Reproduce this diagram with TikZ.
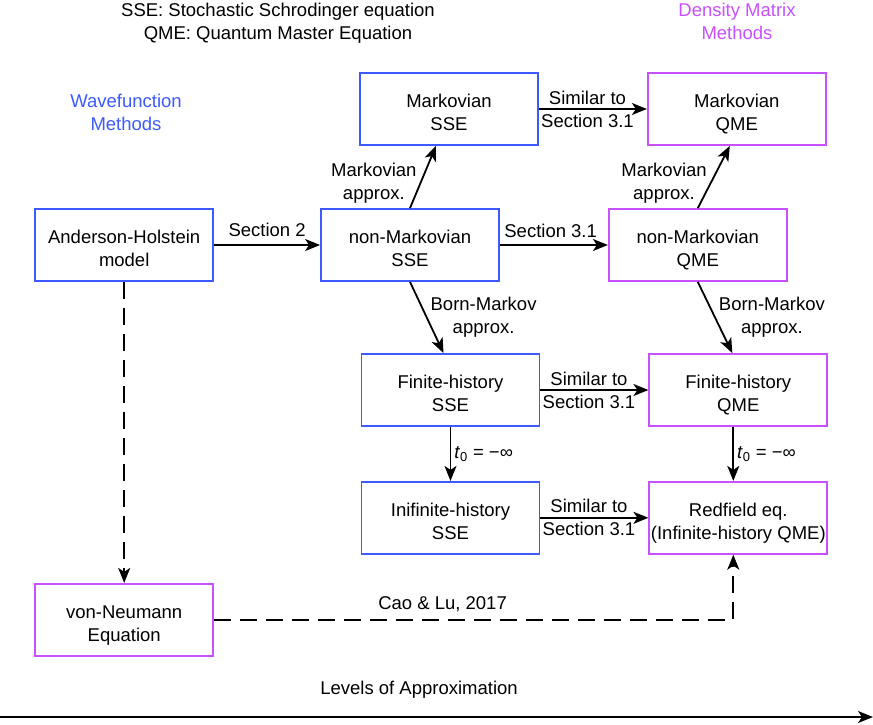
\documentclass[tikz,border=0pt]{standalone}
\usepackage{fontspec}
\setmainfont{Liberation Sans}
\usetikzlibrary{arrows.meta, positioning}
\definecolor{wfblue}{RGB}{60,90,255}
\definecolor{dmpurple}{RGB}{200,80,255}

\begin{document}
\begin{tikzpicture}[x=1pt, y=-1pt,
    font=\fontsize{18.5}{23}\selectfont,
    wf/.style={rectangle, draw=wfblue, line width=1.8pt, minimum width=178pt, minimum height=72pt, align=center, text height=47pt, text depth=4pt},
    dm/.style={wf, draw=dmpurple},
    arr/.style={-{Stealth[length=15pt, width=12pt, inset=4pt]}, line width=1.8pt},
    dasharr/.style={arr, dash pattern=on 17pt off 9pt},
    lbl/.style={align=center, inner sep=3pt}
]
    \useasboundingbox (0,0) rectangle (873,724);

    \node[lbl] (legend) at (278,23) {SSE: Stochastic Schrodinger equation\\QME: Quantum Master Equation};
    \node[lbl, text=wfblue] (wavehead) at (126,112) {Wavefunction\\Methods};
    \node[lbl, text=dmpurple] (denshead) at (737,21) {Density Matrix\\Methods};

    \node[wf] (msse) at (449,109) {Markovian\\SSE};
    \node[dm, right=108pt of msse] (mqme) {Markovian\\QME};
    \node[wf] (nmsse) at (410,245) {non-Markovian\\SSE};
    \node[wf, left=106pt of nmsse] (ah) {Anderson-Holstein\\model};
    \node[dm, right=108pt of nmsse] (nmqme) {non-Markovian\\QME};
    \node[wf] (fsse) at (450.5,390) {Finite-history\\SSE};
    \node[dm, right=108pt of fsse] (fqme) {Finite-history\\QME};
    \node[wf, below=54pt of fsse] (isse) {Inifinite-history\\SSE};
    \node[dm, inner xsep=1pt, right=108pt of isse] (redfield) {Redfield eq.\\(Infinite-history QME)};
    \node[dm, below=301pt of ah] (vn) {von-Neumann\\Equation};

    \draw[arr] (ah) -- node[above=4pt, lbl] {Section 2} (nmsse);
    \draw[arr] (nmsse) -- node[above=3pt, pos=0.47, lbl] {Section 3.1} (nmqme);
    \draw[arr] (msse) -- node[pos=0.45, lbl] {Similar to\\Section 3.1} (mqme);
    \draw[arr] (fsse) -- node[pos=0.45, lbl] {Similar to\\Section 3.1} (fqme);
    \draw[arr] (isse) -- node[pos=0.45, lbl] {Similar to\\Section 3.1} (redfield);

    \draw[arr] (nmsse.north) -- node[left, pos=0.4, lbl] {Markovian\\approx.} ([xshift=-13pt]msse.south);
    \draw[arr] (nmqme.north) -- node[left, pos=0.4, lbl] {Markovian\\approx.} ([xshift=-7pt]mqme.south);
    \draw[arr] (nmsse.south) -- node[right, lbl] {Born-Markov\\approx.} ([xshift=-7pt]fsse.north);
    \draw[arr] (nmqme.south) -- node[right, lbl] {Born-Markov\\approx.} ([xshift=-6pt]fqme.north);
    \draw[arr] (fsse) -- node[right, lbl] {\textit{t}\textsubscript{0} = −∞} (isse);
    \draw[arr] ([xshift=-5pt]fqme.south) -- node[right, lbl] {\textit{t}\textsubscript{0} = −∞} ([xshift=-5pt]redfield.north);

    \draw[dasharr] (ah) -- (vn);
    \draw[dasharr] (vn) -| node[pos=0.22, above=4pt, lbl] {Cao \& Lu, 2017} ([xshift=-5pt]redfield.south);

    % axis of approximation levels
    \coordinate (axleft) at (0,717);
    \coordinate (axright) at (873,717);
    \draw[arr] (axleft) -- node[pos=0.48, above=15pt, lbl] {Levels of Approximation} (axright);
\end{tikzpicture}
\end{document}
